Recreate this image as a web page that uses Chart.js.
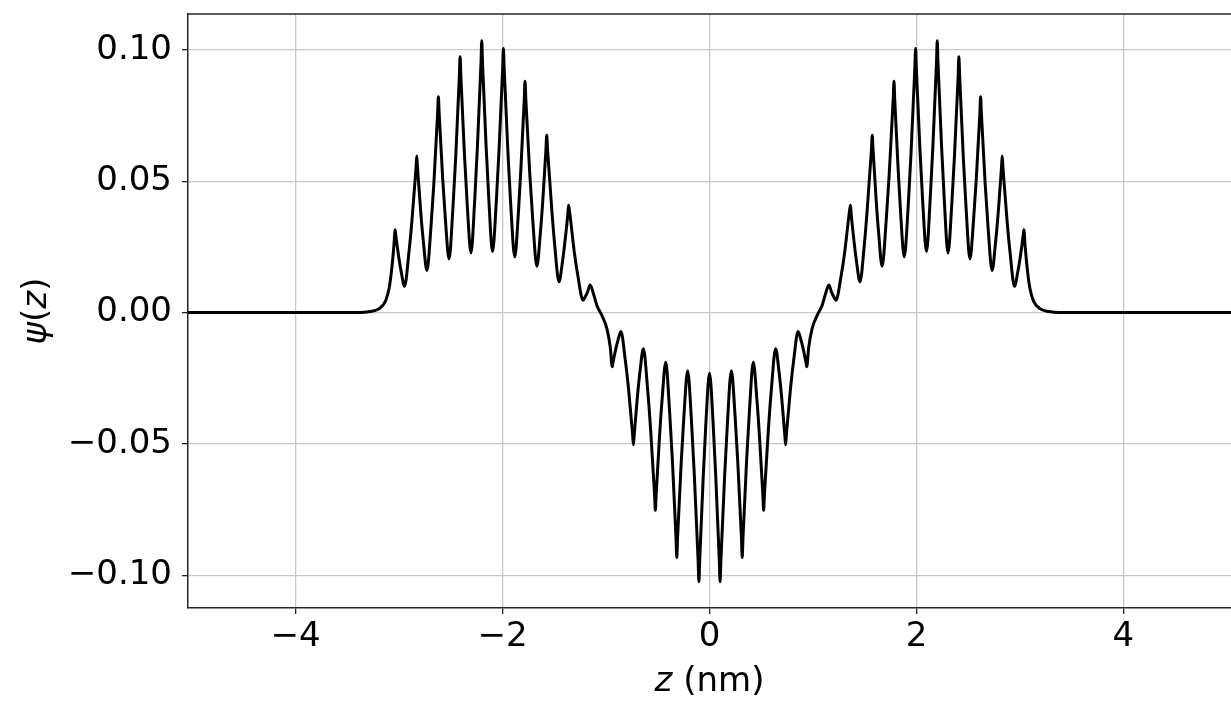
<!DOCTYPE html>
<html>
<head>
<meta charset="utf-8">
<script src="https://cdn.jsdelivr.net/npm/chart.js@4"></script>
<style>
  html, body { margin: 0; padding: 0; background: #fff; overflow: hidden; }
  canvas { display: block; }
</style>
</head>
<body>
<canvas id="psiChart" width="1231" height="702"></canvas>
<script>
// values, z in nm
var leftTailZ = [-5.1, -4.2, -3.38, -3.28, -3.197, -3.13, -3.095, -3.07, -3.05]
var leftTailPsi = [0, 0, 0, 0.0004, 0.0014, 0.0045, 0.0095, 0.0170, 0.0255]

var leftLobeZ = [
  -3.038, -3.032, -3.002, -2.979,
  -2.947, -2.906, -2.876, -2.837,
  -2.829, -2.822, -2.790, -2.765,
  -2.731, -2.692, -2.664, -2.628,
  -2.620, -2.613, -2.579, -2.553,
  -2.517, -2.480, -2.453, -2.418,
  -2.410, -2.403, -2.368, -2.342,
  -2.305, -2.269, -2.243, -2.208,
  -2.201, -2.194, -2.159, -2.133,
  -2.097, -2.060, -2.034, -1.999,
  -1.992, -1.984, -1.948, -1.921,
  -1.882, -1.847, -1.823, -1.790,
  -1.783, -1.775, -1.737, -1.708,
  -1.668, -1.635, -1.611, -1.580,
  -1.573, -1.565, -1.525, -1.496,
  -1.454, -1.422, -1.399, -1.368,
  -1.362, -1.352, -1.306, -1.271,
  -1.222, -1.198, -1.181, -1.153
]
var leftLobePsi = [
  0.0315, 0.0294, 0.0208, 0.0154,
  0.0100, 0.0224, 0.0348, 0.0546,
  0.0596, 0.0552, 0.0378, 0.0269,
  0.0160, 0.0325, 0.0491, 0.0755,
  0.0821, 0.0759, 0.0513, 0.0358,
  0.0204, 0.0396, 0.0589, 0.0896,
  0.0973, 0.0898, 0.0600, 0.0414,
  0.0227, 0.0429, 0.0631, 0.0953,
  0.1034, 0.0954, 0.0633, 0.0433,
  0.0232, 0.0425, 0.0619, 0.0928,
  0.1005, 0.0926, 0.0609, 0.0410,
  0.0212, 0.0379, 0.0546, 0.0813,
  0.0880, 0.0810, 0.0528, 0.0352,
  0.0176, 0.0301, 0.0426, 0.0625,
  0.0675, 0.0619, 0.0396, 0.0257,
  0.0117, 0.0190, 0.0263, 0.0379,
  0.0408, 0.0383, 0.0228, 0.0137,
  0.0047, 0.0062, 0.0076, 0.0105
]

var wellZ = [
  -1.121, -1.088, -1.040, -0.991, -0.959,
  -0.940, -0.934, -0.906, -0.885,
  -0.856, -0.814, -0.783, -0.744,
  -0.735, -0.728, -0.697, -0.673,
  -0.639, -0.598, -0.569, -0.531,
  -0.523, -0.516, -0.483, -0.458,
  -0.423, -0.386, -0.359, -0.324,
  -0.316, -0.309, -0.274, -0.248,
  -0.211, -0.173, -0.146, -0.110,
  -0.102, -0.095, -0.061, -0.036,
  0.000,
  0.036, 0.061, 0.095, 0.102,
  0.110, 0.146, 0.173, 0.211,
  0.248, 0.274, 0.309, 0.316,
  0.324, 0.359, 0.386, 0.423,
  0.458, 0.483, 0.516, 0.523,
  0.531, 0.569, 0.598, 0.639,
  0.673, 0.697, 0.728, 0.735,
  0.744, 0.783, 0.814, 0.856,
  0.885, 0.906, 0.934, 0.940,
  0.959, 0.991, 1.040, 1.088, 1.121
]
var wellPsi = [
  0.0071, 0.0027, -0.0011, -0.0062, -0.0132,
  -0.0206, -0.0193, -0.0139, -0.0106,
  -0.0072, -0.0180, -0.0288, -0.0460,
  -0.0503, -0.0467, -0.0321, -0.0229,
  -0.0138, -0.0292, -0.0445, -0.0691,
  -0.0752, -0.0696, -0.0471, -0.0330,
  -0.0189, -0.0374, -0.0559, -0.0855,
  -0.0932, -0.0858, -0.0575, -0.0398,
  -0.0221, -0.0422, -0.0623, -0.0944,
  -0.1024, -0.0945, -0.0628, -0.0429,
  -0.0231,
  -0.0429, -0.0628, -0.0945, -0.1024,
  -0.0944, -0.0623, -0.0422, -0.0221,
  -0.0398, -0.0575, -0.0858, -0.0932,
  -0.0855, -0.0559, -0.0374, -0.0189,
  -0.0330, -0.0471, -0.0696, -0.0752,
  -0.0691, -0.0445, -0.0292, -0.0138,
  -0.0229, -0.0321, -0.0467, -0.0503,
  -0.0460, -0.0288, -0.0180, -0.0072,
  -0.0106, -0.0139, -0.0193, -0.0206,
  -0.0132, -0.0062, -0.0011, 0.0027, 0.0071
]

var rightLobeZ = [
  1.153, 1.181, 1.198, 1.222,
  1.271, 1.306, 1.352, 1.362,
  1.368, 1.399, 1.422, 1.454,
  1.496, 1.525, 1.565, 1.573,
  1.580, 1.611, 1.635, 1.668,
  1.708, 1.737, 1.775, 1.783,
  1.790, 1.823, 1.847, 1.882,
  1.921, 1.948, 1.984, 1.992,
  1.999, 2.034, 2.060, 2.097,
  2.133, 2.159, 2.194, 2.201,
  2.208, 2.243, 2.269, 2.305,
  2.342, 2.368, 2.403, 2.410,
  2.418, 2.453, 2.480, 2.517,
  2.553, 2.579, 2.613, 2.620,
  2.628, 2.664, 2.692, 2.731,
  2.765, 2.790, 2.822, 2.829,
  2.837, 2.876, 2.906, 2.947,
  2.979, 3.002, 3.032, 3.038
]
var rightLobePsi = [
  0.0105, 0.0076, 0.0062, 0.0047,
  0.0137, 0.0228, 0.0383, 0.0408,
  0.0379, 0.0263, 0.0190, 0.0117,
  0.0257, 0.0396, 0.0619, 0.0675,
  0.0625, 0.0426, 0.0301, 0.0176,
  0.0352, 0.0528, 0.0810, 0.0880,
  0.0813, 0.0546, 0.0379, 0.0212,
  0.0410, 0.0609, 0.0926, 0.1005,
  0.0928, 0.0619, 0.0425, 0.0232,
  0.0433, 0.0633, 0.0954, 0.1034,
  0.0953, 0.0631, 0.0429, 0.0227,
  0.0414, 0.0600, 0.0898, 0.0973,
  0.0896, 0.0589, 0.0396, 0.0204,
  0.0358, 0.0513, 0.0759, 0.0821,
  0.0755, 0.0491, 0.0325, 0.0160,
  0.0269, 0.0378, 0.0552, 0.0596,
  0.0546, 0.0348, 0.0224, 0.0100,
  0.0154, 0.0208, 0.0294, 0.0315
]

var rightTailZ = [3.05, 3.07, 3.095, 3.13, 3.197, 3.28, 3.38, 4.2, 5.1]
var rightTailPsi = [0.0255, 0.0170, 0.0095, 0.0045, 0.0014, 0.0004, 0, 0, 0]

var xTicks = [-4, -2, 0, 2, 4]
var yTicks = [-0.10, -0.05, 0.00, 0.05, 0.10]

var FONT = '"DejaVu Sans", "Noto Sans", sans-serif'

function buildPoints() {
    var zs = leftTailZ.concat(leftLobeZ, wellZ, rightLobeZ, rightTailZ)
    var ps = leftTailPsi.concat(leftLobePsi, wellPsi, rightLobePsi, rightTailPsi)
    var pts = []
    for (let i = 0; i < zs.length; i++) {
        pts.push({x: zs[i], y: ps[i]})
    }
    return pts
}

function minusSign(s) {
    return s.replace('-', '\u2212')
}

// top spine + axis titles with italic math symbols
var framePlugin = {
    id: 'frame',
    afterDraw: function (chart) {
        var ctx = chart.ctx
        var a = chart.chartArea
        ctx.save()
        ctx.strokeStyle = '#262626'
        ctx.lineWidth = 1.5
        ctx.beginPath()
        ctx.moveTo(a.left, a.top)
        ctx.lineTo(a.right + 2, a.top)
        ctx.stroke()

        ctx.fillStyle = '#000'
        ctx.textBaseline = 'alphabetic'
        ctx.textAlign = 'left'

        // x title: z (nm)
        var it = 'italic 34px ' + FONT
        var rg = '34px ' + FONT
        ctx.font = it
        var w1 = ctx.measureText('z').width
        ctx.font = rg
        var w2 = ctx.measureText(' (nm)').width
        var cx = (chart.scales.x.getPixelForValue(0))
        var sx = cx - (w1 + w2) / 2
        ctx.font = it
        ctx.fillText('z', sx, 691)
        ctx.font = rg
        ctx.fillText(' (nm)', sx + w1, 691)

        // y title: psi(z)
        var parts = [['\u03c8', it], ['(', rg], ['z', it], [')', rg]]
        var total = 0
        parts.forEach(p => { ctx.font = p[1]; total += ctx.measureText(p[0]).width })
        ctx.translate(46, (a.top + a.bottom) / 2)
        ctx.rotate(-Math.PI / 2)
        var px = -total / 2
        parts.forEach(p => {
            ctx.font = p[1]
            ctx.fillText(p[0], px, 0)
            px += ctx.measureText(p[0]).width
        })
        ctx.restore()
    }
}

var ctx = document.getElementById('psiChart')
var psiChart = new Chart(ctx, {
    type: 'line',
    data: {
        datasets: [{
            data: buildPoints(),
            borderColor: '#000',
            borderWidth: 3,
            pointRadius: 0,
            fill: false,
            cubicInterpolationMode: 'monotone'
        }]
    },
    options: {
        responsive: false,
        animation: false,
        devicePixelRatio: 1,
        layout: {padding: {top: 14, right: 0, left: 0, bottom: 0}},
        plugins: {legend: {display: false}, tooltip: {enabled: false}},
        scales: {
            x: {
                type: 'linear',
                min: -5.04,
                max: 5.04,
                afterBuildTicks: function (axis) {
                    axis.ticks = xTicks.map(v => ({value: v}))
                },
                afterFit: function (axis) {
                    axis.height = 94
                    axis.paddingLeft = 0
                    axis.paddingRight = 0
                },
                grid: {color: '#c8c8c8', lineWidth: 1.3, tickLength: 6, tickColor: '#222', tickWidth: 1.3},
                border: {display: true, color: '#262626', width: 1.5},
                ticks: {
                    color: '#000',
                    font: {family: FONT, size: 34},
                    padding: 3,
                    maxRotation: 0,
                    autoSkip: false,
                    callback: function (v) { return minusSign(String(v)) }
                }
            },
            y: {
                type: 'linear',
                min: -0.1124,
                max: 0.1136,
                afterBuildTicks: function (axis) {
                    axis.ticks = yTicks.map(v => ({value: v}))
                },
                afterFit: function (axis) {
                    axis.width = 188
                    axis.paddingTop = 0
                    axis.paddingBottom = 0
                },
                grid: {color: '#c8c8c8', lineWidth: 1.3, tickLength: 6, tickColor: '#222', tickWidth: 1.3},
                border: {display: true, color: '#262626', width: 1.5},
                ticks: {
                    color: '#000',
                    font: {family: FONT, size: 34},
                    padding: 10,
                    autoSkip: false,
                    callback: function (v) { return minusSign(v.toFixed(2)) }
                }
            }
        }
    },
    plugins: [framePlugin]
})
</script>
</body>
</html>
